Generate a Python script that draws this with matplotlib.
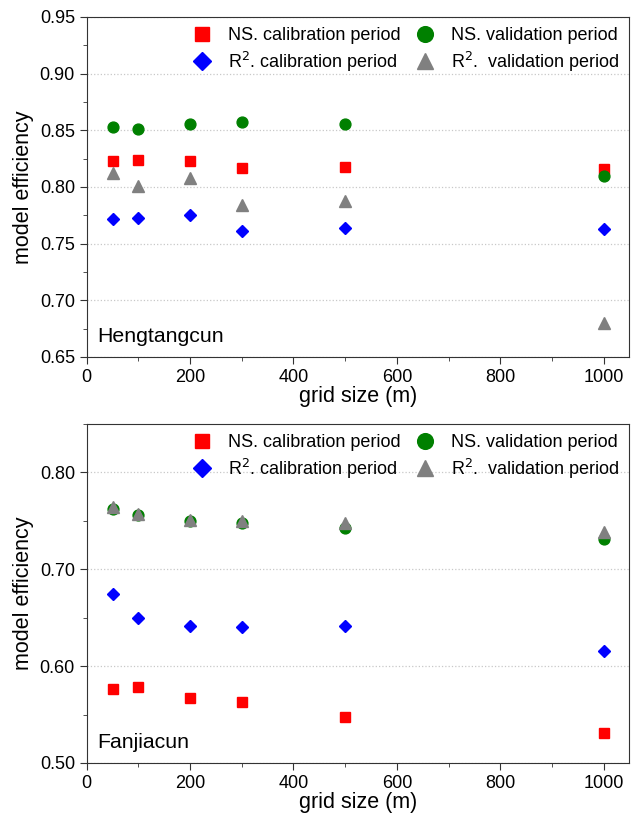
import numpy as np
import matplotlib.pyplot as plt
from matplotlib.ticker import MultipleLocator

plt.rcParams['font.family'] = ['Liberation Sans', 'DejaVu Sans']

grid = [50, 100, 200, 300, 500, 1000]

# Hengtangcun
h_ns_cal = [0.823, 0.824, 0.823, 0.817, 0.818, 0.816]
h_ns_val = [0.853, 0.851, 0.856, 0.857, 0.856, 0.810]
h_r2_cal = [0.772, 0.773, 0.775, 0.761, 0.764, 0.763]
h_r2_val = [0.812, 0.801, 0.808, 0.784, 0.788, 0.680]

# Fanjiacun
f_ns_cal = [0.576, 0.578, 0.567, 0.563, 0.547, 0.531]
f_ns_val = [0.762, 0.756, 0.750, 0.748, 0.743, 0.731]
f_r2_cal = [0.674, 0.650, 0.641, 0.640, 0.641, 0.616]
f_r2_val = [0.764, 0.757, 0.751, 0.750, 0.748, 0.738]

labels = ['NS. calibration period', 'R$^2$. calibration period',
          'NS. validation period', 'R$^2$.  validation period']

fig = plt.figure(figsize=(6.38, 8.16), dpi=100)
ax1 = fig.add_axes([0.136, 0.5625, 0.8505, 0.4167])
ax2 = fig.add_axes([0.136, 0.065, 0.8505, 0.4154])


def draw(ax, ns_cal, ns_val, r2_cal, r2_val, ylim, major, name):
    ax.plot(grid, ns_cal, 's', color='red', ms=7, mec='red', label=labels[0], zorder=3)
    ax.plot(grid, r2_cal, 'D', color='blue', ms=6.4, mec='blue', label=labels[1], zorder=3)
    ax.plot(grid, ns_val, 'o', color='green', ms=7.8, mec='green', label=labels[2], zorder=3)
    ax.plot(grid, r2_val, '^', color='gray', ms=8.4, mec='gray', label=labels[3], zorder=4)
    ax.set_xlim(0, 1050)
    ax.set_ylim(*ylim)
    ax.xaxis.set_major_locator(MultipleLocator(200))
    ax.xaxis.set_minor_locator(MultipleLocator(100))
    ax.yaxis.set_major_locator(MultipleLocator(major))
    ax.yaxis.set_minor_locator(MultipleLocator(major / 2))
    ax.yaxis.set_major_formatter(plt.FormatStrFormatter('%.2f'))
    ax.tick_params(which='both', direction='out', labelsize=13, color='#333333')
    ax.tick_params(which='major', length=5)
    ax.tick_params(which='minor', length=3)
    ax.grid(axis='y', which='major', linestyle=':', color='#c8c8c8', linewidth=0.9)
    for s in ax.spines.values():
        s.set_color('#333333')
    ax.set_xlabel('grid size (m)', fontsize=15.5, labelpad=0)
    ax.set_ylabel('model efficiency', fontsize=15.5, labelpad=4)
    ax.text(0.019, 0.044, name, transform=ax.transAxes, fontsize=15.3)
    ax.legend(ncol=2, loc='upper right', frameon=False, fontsize=13,
              markerscale=1.45, handletextpad=0.62, columnspacing=0.55,
              labelspacing=0.32, borderaxespad=0.15, handlelength=1.6)


draw(ax1, h_ns_cal, h_ns_val, h_r2_cal, h_r2_val, (0.65, 0.95), 0.05, 'Hengtangcun')
draw(ax2, f_ns_cal, f_ns_val, f_r2_cal, f_r2_val, (0.50, 0.85), 0.10, 'Fanjiacun')
ax2.set_yticks([0.5, 0.6, 0.7, 0.8])

fig.savefig('out.png', dpi=100)
